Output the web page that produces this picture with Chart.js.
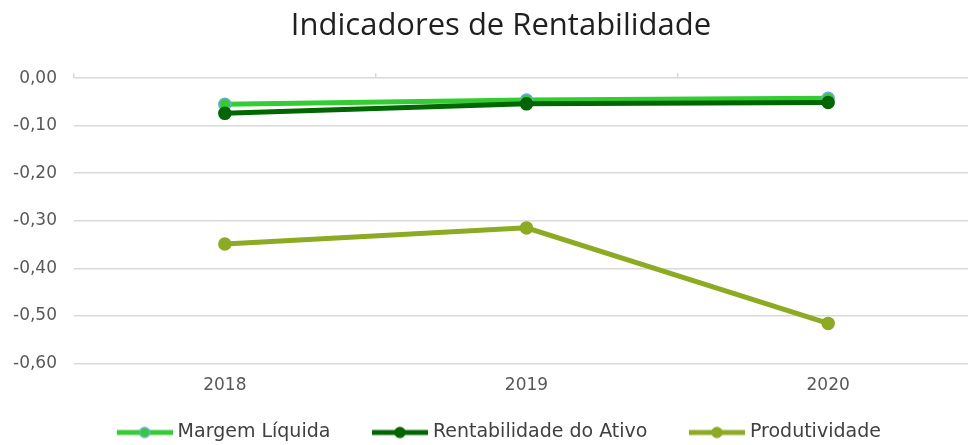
<!DOCTYPE html>
<html>
<head>
<meta charset="utf-8">
<script src="https://cdn.jsdelivr.net/npm/chart.js@4.4.0/dist/chart.umd.min.js"></script>
<style>
  html, body { margin: 0; padding: 0; background: #fff; overflow: hidden; }
  #wrap { width: 968px; height: 445px; overflow: hidden; position: relative; }
  canvas { display: block; }
</style>
</head>
<body>
<div id="wrap"><canvas id="c" width="1002" height="445"></canvas></div>
<script>
const categories = ['2018', '2019', '2020'];
const margemLiquida = [-0.055, -0.046, -0.042];
const rentabilidadeAtivo = [-0.074, -0.054, -0.051];
const produtividade = [-0.349, -0.315, -0.516];
const yTicks = [0, -0.1, -0.2, -0.3, -0.4, -0.5, -0.6];
const seriesNames = ['Margem Líquida', 'Rentabilidade do Ativo', 'Produtividade'];

const colors = [
  { line: '#33CC33', pointFill: '#33CC33', pointBorder: '#6FA8DC' },
  { line: '#006600', pointFill: '#006600', pointBorder: '#006600' },
  { line: '#8CAA22', pointFill: '#8CAA22', pointBorder: '#8CAA22' }
];

function legendIcon(c) {
  const cv = document.createElement('canvas');
  cv.width = 56; cv.height = 14;
  const g = cv.getContext('2d');
  g.strokeStyle = c.line; g.lineWidth = 5; g.lineCap = 'butt';
  g.beginPath(); g.moveTo(0, 7); g.lineTo(56, 7); g.stroke();
  g.fillStyle = c.pointFill; g.strokeStyle = c.pointBorder; g.lineWidth = 1.5;
  g.beginPath(); g.arc(28, 7, 5, 0, Math.PI * 2); g.fill(); g.stroke();
  return cv;
}

const dataArrays = [margemLiquida, rentabilidadeAtivo, produtividade];
const datasets = dataArrays.map((d, i) => ({
  label: seriesNames[i],
  data: d,
  borderColor: colors[i].line,
  backgroundColor: colors[i].pointFill,
  pointBackgroundColor: colors[i].pointFill,
  pointBorderColor: colors[i].pointBorder,
  pointBorderWidth: 1.5,
  borderWidth: 5,
  pointRadius: 6,
  pointHoverRadius: 6,
  tension: 0,
  order: 3 - i
}));

const fmt = v => v.toFixed(2).replace('.', ',');

new Chart(document.getElementById('c'), {
  type: 'line',
  data: { labels: categories, datasets },
  options: {
    responsive: false,
    animation: false,
    layout: { padding: { left: 0, right: 0, top: 0, bottom: -7 } },
    plugins: {
      title: {
        display: true,
        text: 'Indicadores de Rentabilidade',
        color: '#1F1F1F',
        font: { family: 'Open Sans', size: 31, weight: 'normal', lineHeight: 1.2 },
        padding: { top: 8, bottom: 33 }
      },
      legend: {
        position: 'bottom',
        labels: {
          color: '#404040',
          font: { family: 'DejaVu Sans', size: 19 },
          usePointStyle: true,
          pointStyleWidth: 47,
          padding: 46,
          generateLabels: chart => chart.data.datasets.map((ds, i) => ({
            text: ds.label,
            pointStyle: legendIcon(colors[i]),
            fillStyle: colors[i].line,
            strokeStyle: colors[i].line,
            lineWidth: 0,
            hidden: false,
            datasetIndex: i,
            fontColor: '#404040'
          }))
        }
      },
      tooltip: { enabled: false }
    },
    scales: {
      x: {
        offset: true,
        grid: { display: false, drawTicks: false },
        border: { display: false },
        afterFit: axis => { axis.height = 13.7; },
        ticks: { color: '#595959', font: { family: 'DejaVu Sans', size: 17 }, padding: -32, mirror: true }
      },
      xTop: {
        type: 'category',
        position: 'top',
        offset: true,
        labels: categories,
        grid: { display: true, offset: true, drawOnChartArea: false, drawTicks: true, tickLength: 5, color: '#D9D9D9', lineWidth: 1.5 },
        border: { display: false },
        ticks: { display: false },
        afterFit: axis => { axis.height = 0; }
      },
      y: {
        min: -0.6,
        max: 0,
        afterBuildTicks: axis => { axis.ticks = yTicks.map(v => ({ value: v })); },
        afterFit: axis => { axis.width = 74; },
        grid: { color: '#D9D9D9', lineWidth: 1.5, drawTicks: false },
        border: { display: false },
        ticks: {
          color: '#595959',
          font: { family: 'DejaVu Sans', size: 17 },
          padding: 17,
          callback: v => fmt(v)
        }
      },
      yRight: {
        type: 'linear',
        position: 'right',
        display: true,
        grid: { display: false, drawTicks: false },
        border: { display: false },
        ticks: { display: false },
        afterFit: axis => { axis.width = 23; }
      }
    }
  }
});
</script>
</body>
</html>
